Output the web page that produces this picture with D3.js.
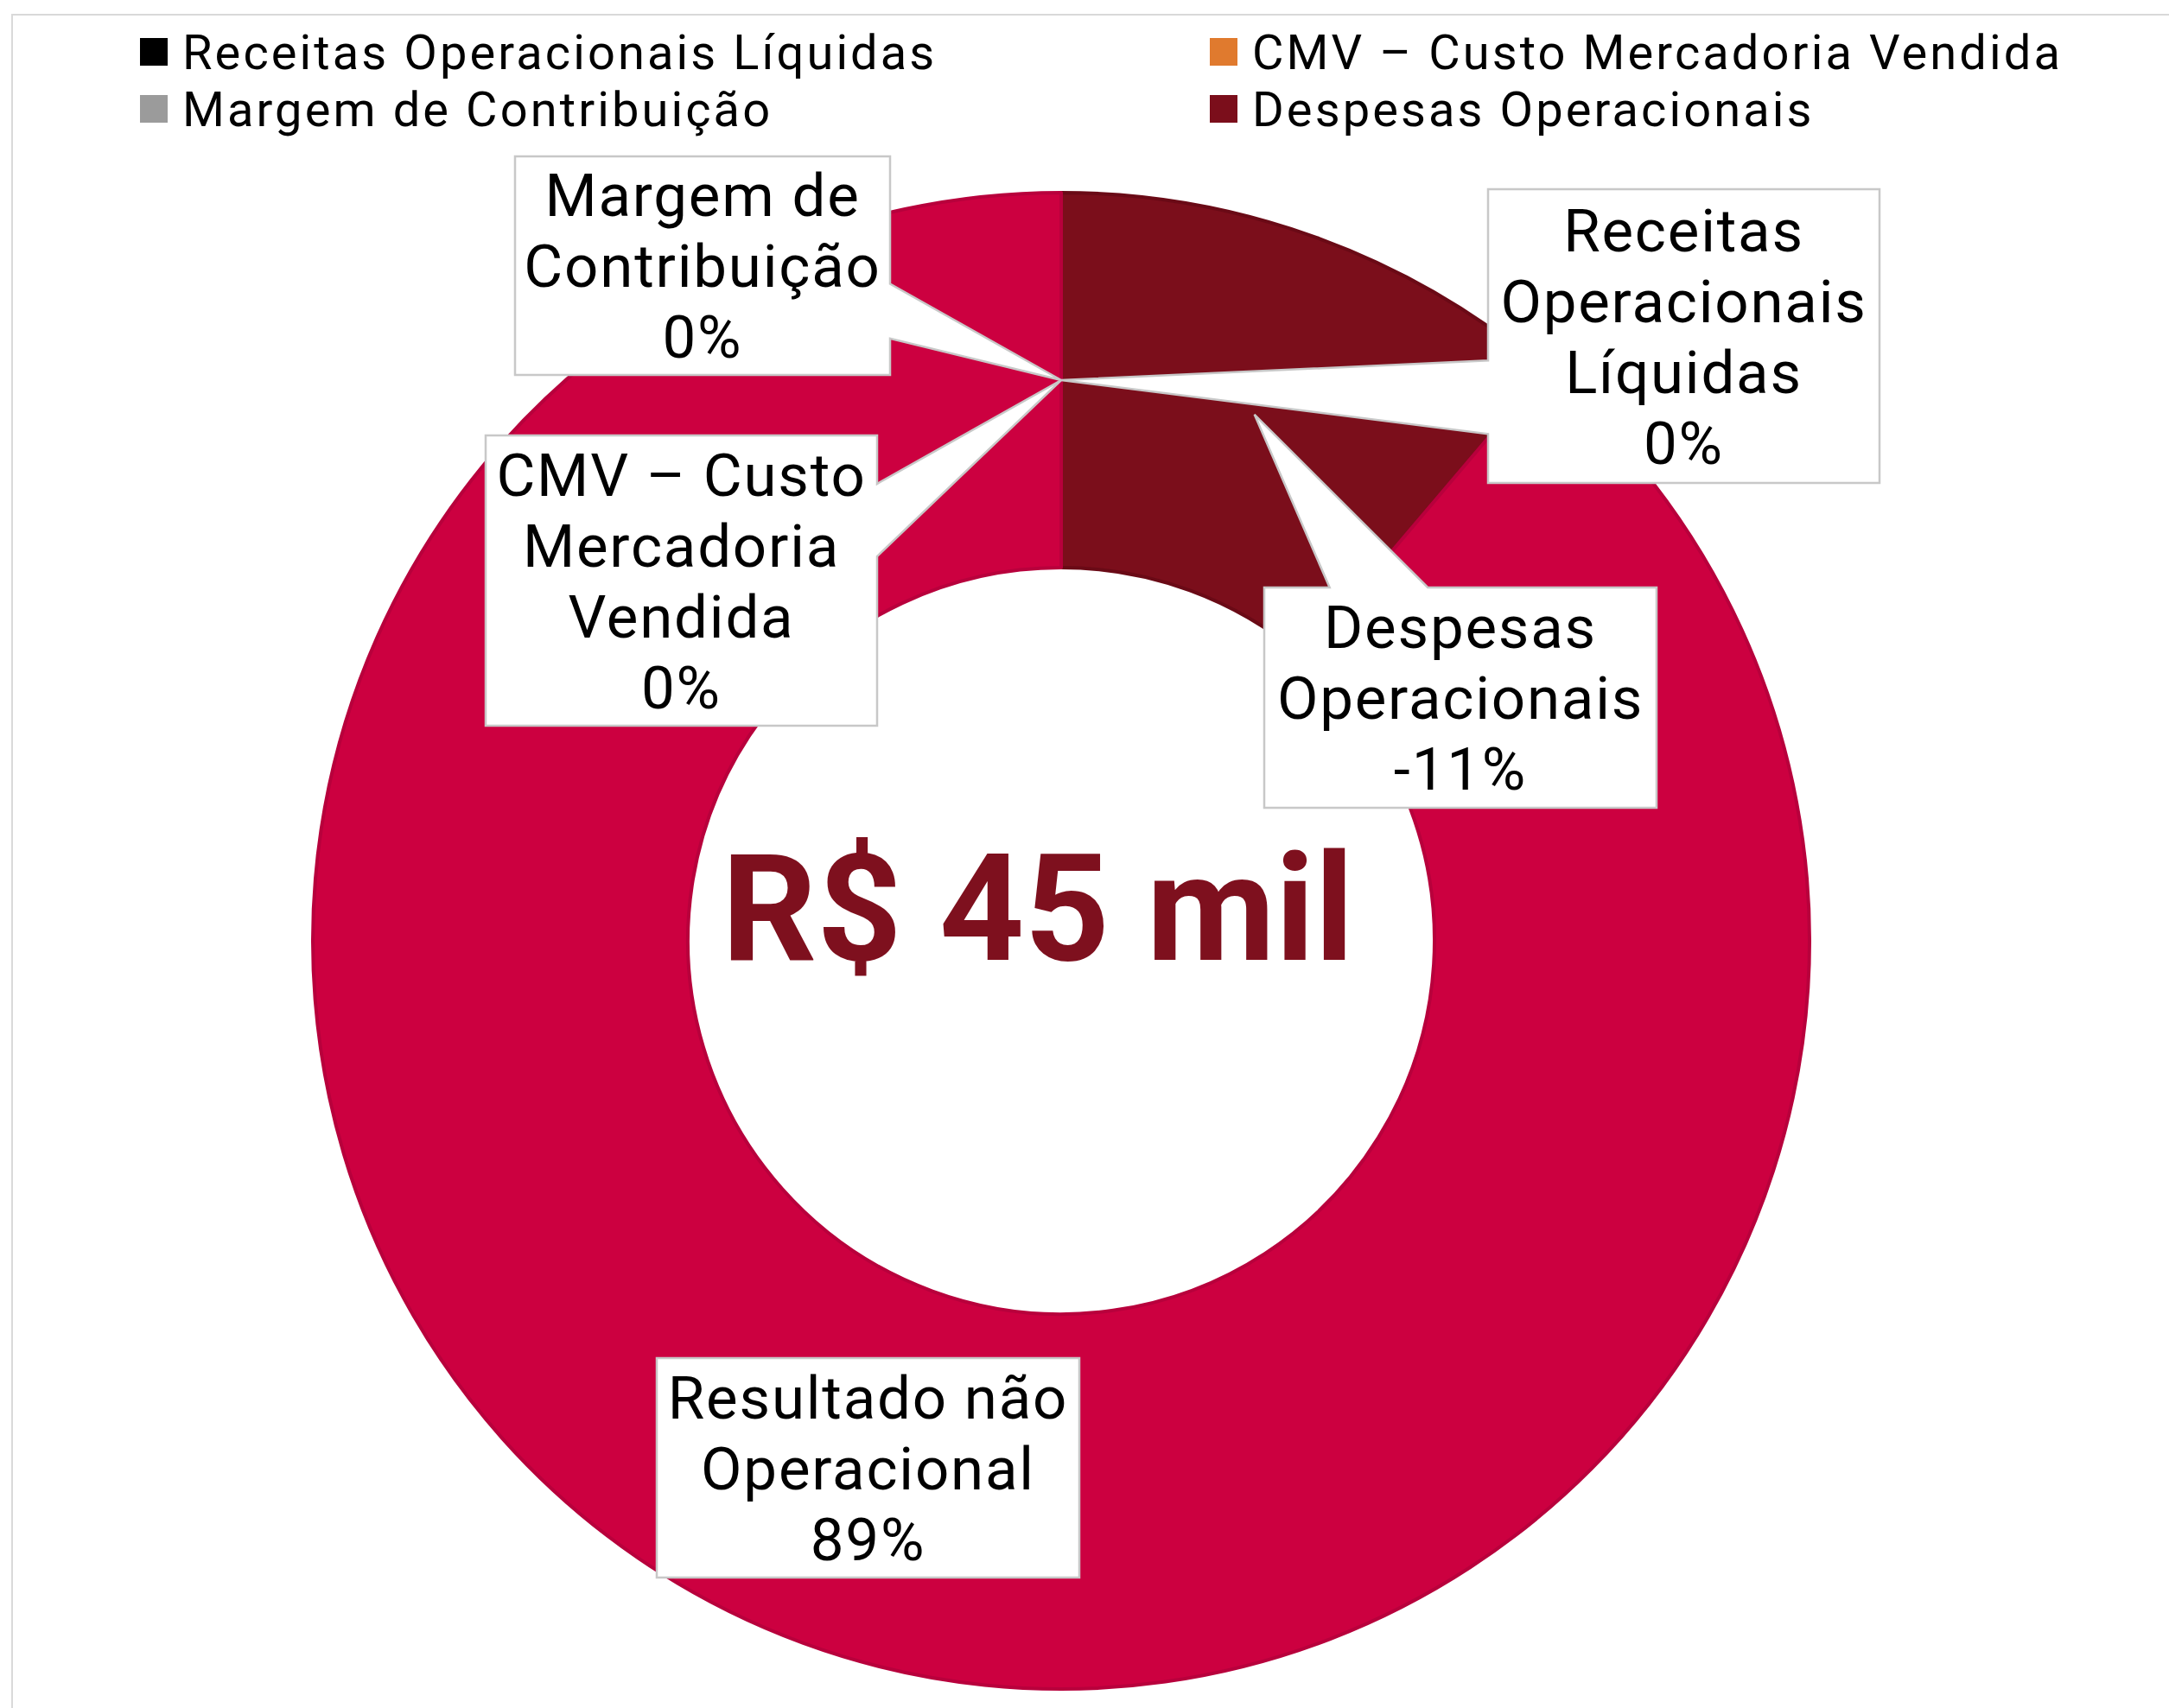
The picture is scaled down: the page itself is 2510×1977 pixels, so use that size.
<!DOCTYPE html>
<html>
<head>
<meta charset="utf-8">
<script src="https://cdn.jsdelivr.net/npm/d3@7"></script>
<style>
  body { margin: 0; background: #fff; }
  text { font-family: Roboto, "Open Sans", sans-serif; }
</style>
</head>
<body>
<script>
// data
var categories = ["Receitas Operacionais Líquidas", "CMV – Custo Mercadoria Vendida",
  "Margem de Contribuição", "Despesas Operacionais", "Resultado não Operacional"];
var shares = [0, 0, 0, -11.2, 88.8];
var legendKeys = categories.slice(0, 4);
var centerLabel = "R$ 45 mil";

var sliceColors = ["#000000", "#E07A2E", "#9B9B9B", "#7B0E1B", "#CC0040"];
var sliceStrokes = ["#000000", "#c0651f", "#888888", "#6a0a16", "#B8003C"];

// label boxes (layout only)
var boxes = {
  "Receitas Operacionais Líquidas": {x: 1722, y: 219, w: 453, h: 340},
  "CMV – Custo Mercadoria Vendida": {x: 562, y: 504, w: 453, h: 336},
  "Margem de Contribuição": {x: 596, y: 181, w: 434, h: 253},
  "Despesas Operacionais": {x: 1463, y: 680, w: 454, h: 255},
  "Resultado não Operacional": {x: 760, y: 1572, w: 489, h: 254}
};

var width = 2510, height = 1977;
var cx = 1228, cy = 1089, outerR = 866, innerR = 432;

var color = d3.scaleOrdinal().domain(categories).range(sliceColors);
var strokeColor = d3.scaleOrdinal().domain(categories).range(sliceStrokes);
var locale = d3.formatLocale({decimal: ",", thousands: ".", grouping: [3], currency: ["R$ ", ""], minus: "-"});
var pct = locale.format(".0%");

var rows = categories.map(function (c, i) { return {name: c, value: shares[i]}; });

var svg = d3.select("body").append("svg")
  .attr("width", width)
  .attr("height", height);

// chart area border
svg.append("rect")
  .attr("x", 14).attr("y", 17)
  .attr("width", width + 50).attr("height", height + 50)
  .attr("fill", "none")
  .attr("stroke", "#d9d9d9")
  .attr("stroke-width", 2);

var pie = d3.pie()
  .sort(null)
  .value(function (d) { return Math.abs(d.value); });

var arc = d3.arc().innerRadius(innerR).outerRadius(outerR);

var g = svg.append("g").attr("transform", "translate(" + cx + "," + cy + ")");

var arcs = pie(rows);

g.selectAll(".slice")
  .data(arcs.filter(function (d) { return d.endAngle > d.startAngle; }))
  .enter().append("path")
  .attr("class", "slice")
  .attr("d", arc)
  .attr("fill", function (d) { return color(d.data.name); })
  .attr("stroke", function (d) { return strokeColor(d.data.name); })
  .attr("stroke-width", 4)
  .attr("stroke-linejoin", "round");

// center text
svg.append("text")
  .attr("x", 1201)
  .attr("y", 1111)
  .attr("text-anchor", "middle")
  .attr("font-size", 172)
  .attr("font-weight", "bold")
  .attr("fill", "#7E101E")
  .text(centerLabel);

// callout shape like excel wedgeRectCallout
function callout(b, tip) {
  var x0 = b.x, y0 = b.y, x1 = b.x + b.w, y1 = b.y + b.h;
  var mx = x0 + b.w / 2, my = y0 + b.h / 2;
  var pts;
  if (tip[0] >= x0 && tip[0] <= x1 && tip[1] >= y0 && tip[1] <= y1) {
    pts = [[x0, y0], [x1, y0], [x1, y1], [x0, y1]];
    return d3.line()(pts) + "Z";
  }
  var dx = (tip[0] - mx) / b.w, dy = (tip[1] - my) / b.h;
  if (Math.abs(dx) > Math.abs(dy)) {
    var f = dy < 0 ? [2, 5] : [7, 10];
    var ya = y0 + b.h * f[0] / 12, yb = y0 + b.h * f[1] / 12;
    if (dx > 0) pts = [[x0, y0], [x1, y0], [x1, ya], tip, [x1, yb], [x1, y1], [x0, y1]];
    else pts = [[x0, y0], [x1, y0], [x1, y1], [x0, y1], [x0, yb], tip, [x0, ya]];
  } else {
    var f2 = dx < 0 ? [2, 5] : [7, 10];
    var xa = x0 + b.w * f2[0] / 12, xb = x0 + b.w * f2[1] / 12;
    if (dy < 0) pts = [[x0, y0], [xa, y0], tip, [xb, y0], [x1, y0], [x1, y1], [x0, y1]];
    else pts = [[x0, y0], [x1, y0], [x1, y1], [xb, y1], tip, [xa, y1], [x0, y1]];
  }
  return d3.line()(pts) + "Z";
}

var fontSize = 69, lineH = 82;

var labels = svg.selectAll(".lbl")
  .data(arcs)
  .enter().append("g")
  .attr("class", "lbl");

labels.append("path")
  .attr("d", function (d) {
    var c = arc.centroid(d);
    return callout(boxes[d.data.name], [c[0] + cx, c[1] + cy]);
  })
  .attr("fill", "#fff")
  .attr("stroke", "#c8c8c8")
  .attr("stroke-width", 2.5)
  .attr("stroke-linejoin", "miter");

labels.each(function (d) {
  var b = boxes[d.data.name];
  var t = d3.select(this).append("text")
    .attr("text-anchor", "middle")
    .attr("font-size", fontSize)
    .attr("letter-spacing", 1.8)
    .attr("fill", "#000");
  // greedy word wrap
  var words = d.data.name.split(" ");
  var lines = [], cur = "";
  var probe = t.append("tspan");
  words.forEach(function (w) {
    var test = cur ? cur + " " + w : w;
    probe.text(test);
    if (cur && probe.node().getComputedTextLength() > b.w - 10) {
      lines.push(cur);
      cur = w;
    } else {
      cur = test;
    }
  });
  lines.push(cur);
  probe.remove();
  lines.push(pct(d.data.value / 100));
  var top = b.y + b.h / 2 - lines.length * lineH / 2 + lineH / 2 + fontSize * 0.36;
  lines.forEach(function (l, i) {
    t.append("tspan")
      .attr("x", b.x + b.w / 2)
      .attr("y", top + i * lineH)
      .text(l);
  });
});

// legend
var legend = svg.selectAll(".legend")
  .data(legendKeys)
  .enter().append("g")
  .attr("class", "legend")
  .attr("transform", function (d, i) {
    return "translate(" + (162 + (i % 2) * 1238) + "," + (60 + Math.floor(i / 2) * 66) + ")";
  });

legend.append("rect")
  .attr("x", 0).attr("y", -16)
  .attr("width", 32).attr("height", 32)
  .attr("fill", color);

legend.append("text")
  .attr("x", 49)
  .attr("y", 0)
  .attr("dy", "0.36em")
  .attr("font-size", 56)
  .attr("letter-spacing", 3.1)
  .attr("fill", "#000")
  .text(function (d) { return d; });
</script>
</body>
</html>
